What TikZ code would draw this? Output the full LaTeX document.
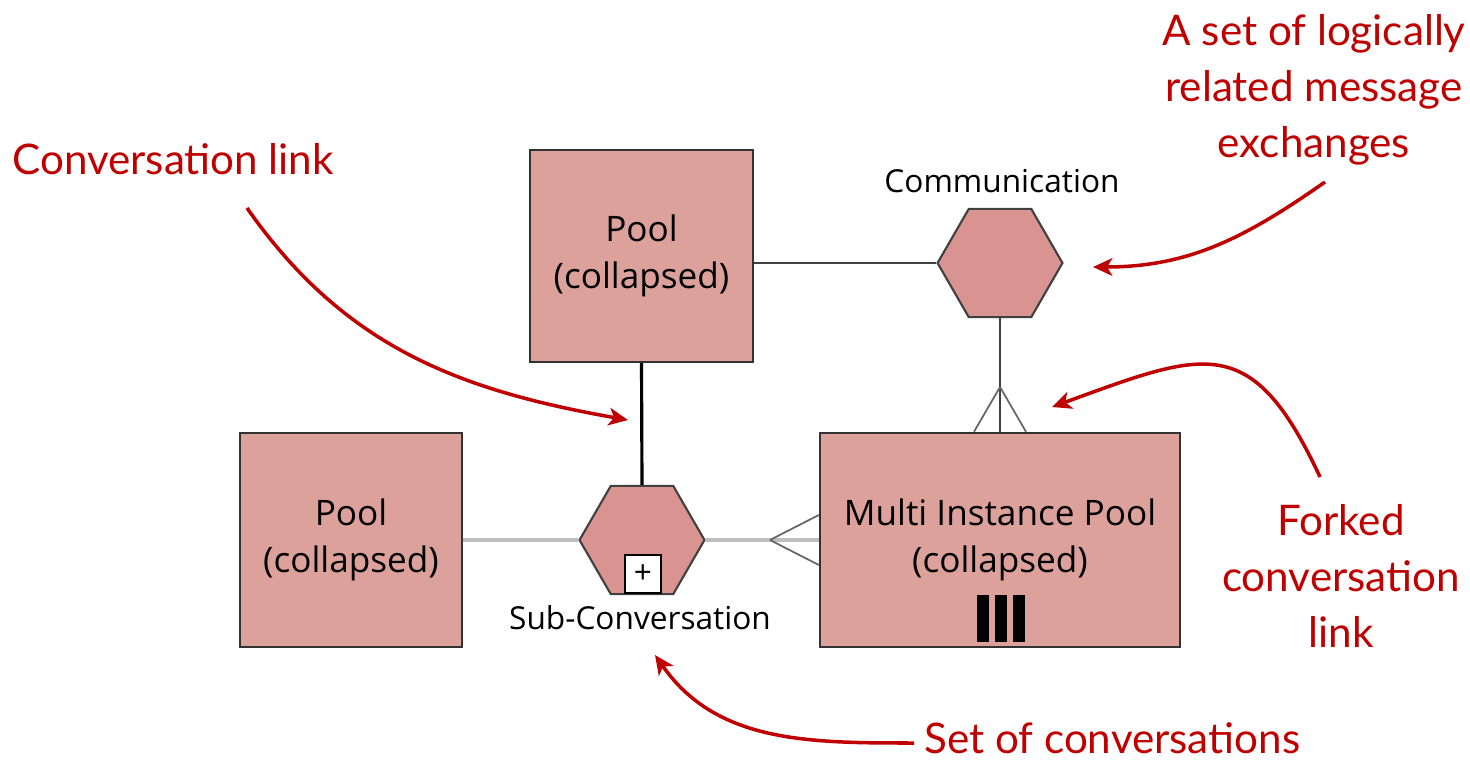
\documentclass[tikz,border=0pt]{standalone}
\usepackage{fontspec}
\setmainfont{Open Sans}
\newfontfamily\notefont{Lato}
\usetikzlibrary{shapes.geometric,arrows.meta}
\definecolor{poolfill}{RGB}{220,161,155}
\definecolor{hexfill}{RGB}{217,148,145}
\definecolor{notered}{RGB}{192,0,0}
\definecolor{linkgray}{RGB}{190,190,190}
\begin{document}
\begin{tikzpicture}[x=0.02cm, y=0.02cm,
    pool/.style={draw=black!80, line width=1.4pt, fill=poolfill, inner sep=0pt,
        align=center, font=\fontsize{20}{26.6}\selectfont},
    conv/.style={regular polygon, regular polygon sides=6, minimum size=2.5cm,
        inner sep=0pt, draw=black!75, line width=1.2pt, fill=hexfill},
    tag/.style={inner sep=0pt, font=\fontsize{18}{22}\selectfont},
    plusbox/.style={draw=black, fill=white, line width=1pt, inner sep=0pt,
        minimum width=0.72cm, minimum height=0.76cm, font=\fontsize{18}{18}\selectfont},
    note/.style={text=notered, inner sep=0pt, align=center,
        font=\notefont\fontsize{24}{31.7}\selectfont},
    notearrow/.style={draw=notered, line width=2pt,
        -{Stealth[length=11pt, width=10pt, inset=3pt]}},
    msglink/.style={draw=black!75, line width=1.2pt},
    convlink/.style={draw=black, line width=1.8pt},
    graylink/.style={draw=linkgray, line width=2.1pt},
    forkline/.style={draw=black!60, line width=1pt}]
    \useasboundingbox (0,0) rectangle (1470,762);

    % Pools
    \node[pool, minimum width=4.46cm, minimum height=4.24cm] (pooltop) at (641.5,506) {Pool\\(collapsed)};
    \node[pool, minimum width=4.44cm, minimum height=4.28cm] (poolleft) at (351,222) {Pool\\(collapsed)};
    \node[pool, minimum width=7.2cm, minimum height=4.28cm] (mip) at (1000,222) {Multi Instance Pool\\(collapsed)};
    \foreach \bx in {982.5,1001,1019}
        \fill[black] (\bx-6,120) rectangle (\bx+6,167);

    % Conversations
    \node[conv] (comm) at (1000,499) {};
    \node[conv] (subconv) at (642,222) {};
    \node[plusbox] (plus) at (643,188) {+};
    \node[tag] (commtag) at (1002,581) {Communication};
    \node[tag] (subtag) at (640,144) {Sub-Conversation};

    % Conversation links
    \draw[msglink] (comm.west) -- (comm.west -| pooltop.east);
    \draw[convlink] (pooltop.south) -- (subconv.north);
    \draw[graylink] (poolleft.east) -- (subconv.west);
    \draw[graylink] (subconv.east) -- (mip.west);
    \draw[msglink] (comm.south) -- (mip.north);

    % Forked ends
    \coordinate (forkL) at (770,222);
    \draw[forkline] (forkL) -- ([yshift=0.5cm]mip.west);
    \draw[forkline] (forkL) -- ([yshift=-0.5cm]mip.west);
    \coordinate (forkT) at (1000,375);
    \draw[forkline] (forkT) -- ([xshift=-0.52cm]mip.north);
    \draw[forkline] (forkT) -- ([xshift=0.52cm]mip.north);

    % Notes
    \node[note, anchor=base west] (linknote) at (12,587) {Conversation link};
    \node[note] (msgnote) at (1314,672) {A set of logically\\related message\\exchanges};
    \node[note] (forknote) at (1341,186) {Forked\\conversation\\link};
    \node[note, anchor=base west] (setnote) at (924,9) {Set of conversations};

    % Note arrows
    \coordinate (linkstart) at (247,554);
    \coordinate (linktip) at (628,342);
    \coordinate (msgstart) at (1325,580);
    \coordinate (msgtip) at (1093,495);
    \coordinate (forkstart) at (1320,285);
    \coordinate (forktip) at (1052,355);
    \coordinate (setstart) at (914,19);
    \coordinate (settip) at (655,107);
    \draw[notearrow] (linkstart) to[out=-55, in=170] (linktip);
    \draw[notearrow] (msgstart) to[out=215, in=0] (msgtip);
    \draw[notearrow] (forkstart) to[out=115, in=20, looseness=1.5] (forktip);
    \draw[notearrow] (setstart) to[out=180, in=-55] (settip);
\end{tikzpicture}
\end{document}
